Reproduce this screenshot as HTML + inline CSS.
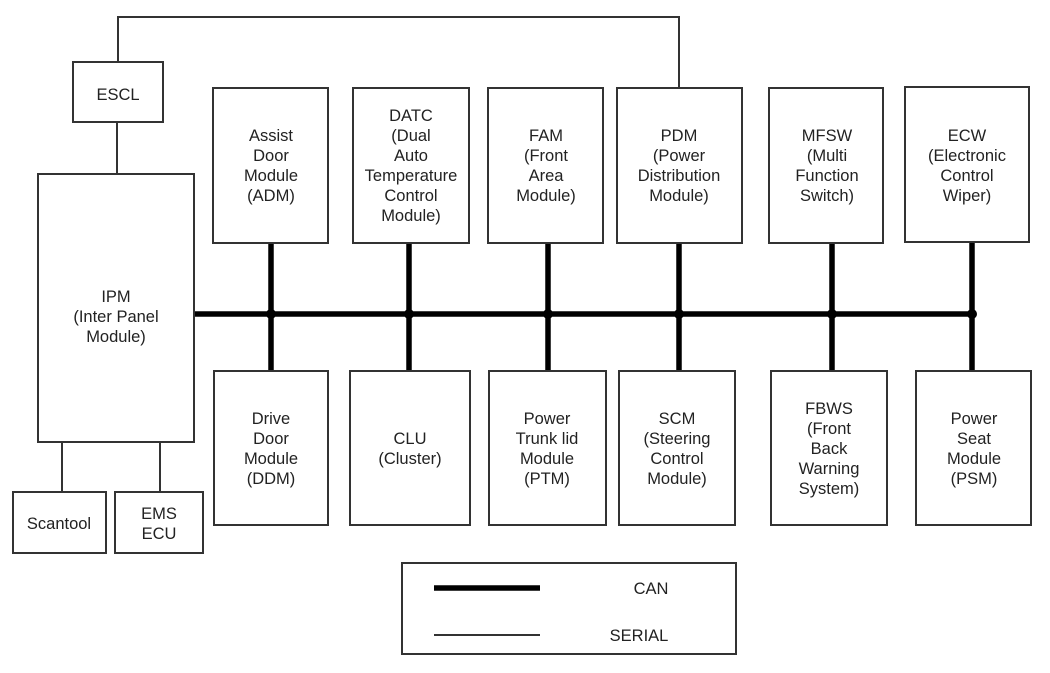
<!DOCTYPE html>
<html><head><meta charset="utf-8"><style>
html,body{margin:0;padding:0;background:#fff;}
svg{display:block;}
text{font-family:"Liberation Sans",sans-serif;font-size:16.5px;fill:#222;text-anchor:middle;}
rect{fill:#fff;stroke:#333;stroke-width:2;}
</style></head><body>
<svg width="1050" height="673" viewBox="0 0 1050 673" xmlns="http://www.w3.org/2000/svg">
<g stroke="#333" stroke-width="2" fill="none">
<polyline points="118,62 118,17 679,17 679,88"/>
<line x1="117" y1="122" x2="117" y2="174"/>
<line x1="62" y1="442" x2="62" y2="492"/>
<line x1="160" y1="442" x2="160" y2="492"/>
</g>
<g stroke="#000" stroke-width="5.5">
<line x1="194" y1="314" x2="975" y2="314"/>
<line x1="271" y1="243" x2="271" y2="371"/>
<line x1="409" y1="243" x2="409" y2="371"/>
<line x1="548" y1="243" x2="548" y2="371"/>
<line x1="679" y1="243" x2="679" y2="371"/>
<line x1="832" y1="243" x2="832" y2="371"/>
<line x1="972" y1="243" x2="972" y2="371"/>
</g>
<g fill="#000">
<circle cx="271" cy="314" r="5"/><circle cx="409" cy="314" r="5"/><circle cx="548" cy="314" r="5"/>
<circle cx="679" cy="314" r="5"/><circle cx="832" cy="314" r="5"/><circle cx="972" cy="314" r="5"/>
</g>
<rect x="73" y="62" width="90" height="60"/>
<text x="118" y="100">ESCL</text>
<rect x="38" y="174" width="156" height="268"/>
<text x="116" y="302">IPM</text><text x="116" y="322">(Inter Panel</text><text x="116" y="342">Module)</text>
<rect x="13" y="492" width="93" height="61"/>
<text x="59" y="529">Scantool</text>
<rect x="115" y="492" width="88" height="61"/>
<text x="159" y="519">EMS</text><text x="159" y="539">ECU</text>

<rect x="213" y="88" width="115" height="155"/>
<text x="271" y="141">Assist</text><text x="271" y="161">Door</text><text x="271" y="181">Module</text><text x="271" y="201">(ADM)</text>
<rect x="353" y="88" width="116" height="155"/>
<text x="411" y="121">DATC</text><text x="411" y="141">(Dual</text><text x="411" y="161">Auto</text><text x="411" y="181">Temperature</text><text x="411" y="201">Control</text><text x="411" y="221">Module)</text>
<rect x="488" y="88" width="115" height="155"/>
<text x="546" y="141">FAM</text><text x="546" y="161">(Front</text><text x="546" y="181">Area</text><text x="546" y="201">Module)</text>
<rect x="617" y="88" width="125" height="155"/>
<text x="679" y="141">PDM</text><text x="679" y="161">(Power</text><text x="679" y="181">Distribution</text><text x="679" y="201">Module)</text>
<rect x="769" y="88" width="114" height="155"/>
<text x="827" y="141">MFSW</text><text x="827" y="161">(Multi</text><text x="827" y="181">Function</text><text x="827" y="201">Switch)</text>
<rect x="905" y="87" width="124" height="155"/>
<text x="967" y="141">ECW</text><text x="967" y="161">(Electronic</text><text x="967" y="181">Control</text><text x="967" y="201">Wiper)</text>

<rect x="214" y="371" width="114" height="154"/>
<text x="271" y="424">Drive</text><text x="271" y="444">Door</text><text x="271" y="464">Module</text><text x="271" y="484">(DDM)</text>
<rect x="350" y="371" width="120" height="154"/>
<text x="410" y="444">CLU</text><text x="410" y="464">(Cluster)</text>
<rect x="489" y="371" width="117" height="154"/>
<text x="547" y="424">Power</text><text x="547" y="444">Trunk lid</text><text x="547" y="464">Module</text><text x="547" y="484">(PTM)</text>
<rect x="619" y="371" width="116" height="154"/>
<text x="677" y="424">SCM</text><text x="677" y="444">(Steering</text><text x="677" y="464">Control</text><text x="677" y="484">Module)</text>
<rect x="771" y="371" width="116" height="154"/>
<text x="829" y="414">FBWS</text><text x="829" y="434">(Front</text><text x="829" y="454">Back</text><text x="829" y="474">Warning</text><text x="829" y="494">System)</text>
<rect x="916" y="371" width="115" height="154"/>
<text x="974" y="424">Power</text><text x="974" y="444">Seat</text><text x="974" y="464">Module</text><text x="974" y="484">(PSM)</text>

<rect x="402" y="563" width="334" height="91"/>
<line x1="434" y1="588" x2="540" y2="588" stroke="#000" stroke-width="5.5"/>
<line x1="434" y1="635" x2="540" y2="635" stroke="#333" stroke-width="2"/>
<text x="651" y="594">CAN</text>
<text x="639" y="641">SERIAL</text>
</svg>
</body></html>
